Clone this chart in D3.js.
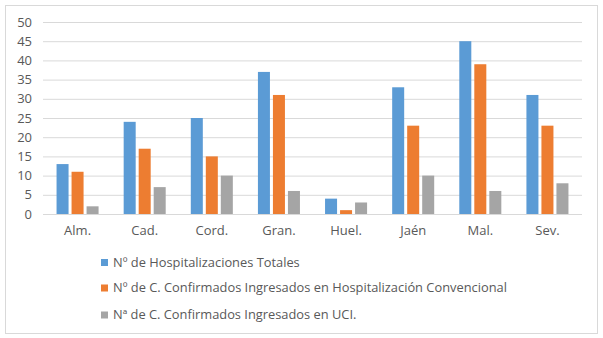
<!DOCTYPE html>
<html><head><meta charset="utf-8">
<script src="https://cdn.jsdelivr.net/npm/d3@7"></script>
<style>
html,body{margin:0;padding:0;background:#fff;}
svg{display:block;font-family:"Open Sans",sans-serif;}
</style></head>
<body>
<svg id="c" width="603" height="338"></svg>
<script>
const categories = ["Alm.","Cad.","Cord.","Gran.","Huel.","Jaén","Mal.","Sev."];
const seriesNames = [
  "Nº de Hospitalizaciones Totales",
  "Nº de C. Confirmados Ingresados en Hospitalización Convencional",
  "Nª de C. Confirmados Ingresados en UCI."
];
const hospTotales = [13,24,25,37,4,33,45,31];
const hospConvencional = [11,17,15,31,1,23,39,23];
const uci = [2,7,10,6,3,10,6,8];
const yTicks = [0,5,10,15,20,25,30,35,40,45,50];
const colors = ["#5b9bd5","#ed7d31","#a5a5a5"];

const series = [hospTotales, hospConvencional, uci];
const svg = d3.select("#c");

svg.append("rect").attr("x",5.5).attr("y",5.5).attr("width",592).attr("height",328)
  .attr("fill","#fff").attr("stroke","#d9d9d9");

const x0 = d3.scaleBand().domain(categories).range([44,581]).paddingInner(0.374).paddingOuter(0.187);
const x1 = d3.scaleBand().domain(d3.range(3)).range([0,x0.bandwidth()]).paddingInner(0.2);
const y = d3.scaleLinear().domain([0,50]).range([214,22]);

const yAxis = svg.append("g").attr("transform","translate(43,0)")
  .call(d3.axisLeft(y).tickValues(yTicks).tickSize(-539).tickPadding(11));
yAxis.select(".domain").remove();
yAxis.selectAll(".tick line").attr("stroke","#d9d9d9");
yAxis.selectAll(".tick text").attr("fill","#595959").style("font-size","13px").style("font-family","'Open Sans',sans-serif");

const groups = svg.append("g").selectAll("g").data(categories).join("g")
  .attr("transform",d=>`translate(${x0(d)},0)`);
groups.selectAll("rect").data((d,i)=>series.map((s,k)=>({k,v:s[i]}))).join("rect")
  .attr("x",d=>x1(d.k)).attr("width",x1.bandwidth())
  .attr("y",d=>y(d.v)).attr("height",d=>y(0)-y(d.v)).attr("fill",d=>colors[d.k]);

const xAxis = svg.append("g").attr("transform","translate(0,214)")
  .call(d3.axisBottom(x0).tickSize(0).tickPadding(12));
xAxis.select(".domain").remove();
xAxis.selectAll(".tick text").attr("fill","#595959").style("font-size","13px").style("font-family","'Open Sans',sans-serif");

const legend = svg.append("g");
const rowsY = [262.5,288,315];
seriesNames.forEach((n,i)=>{
  legend.append("rect").attr("x",101).attr("y",rowsY[i]-3.5).attr("width",7).attr("height",7).attr("fill",colors[i]);
  legend.append("text").attr("x",113).attr("y",rowsY[i]).attr("dy","0.35em")
    .attr("fill","#595959").style("font-size","12.85px").text(n);
});
</script>
</body></html>
